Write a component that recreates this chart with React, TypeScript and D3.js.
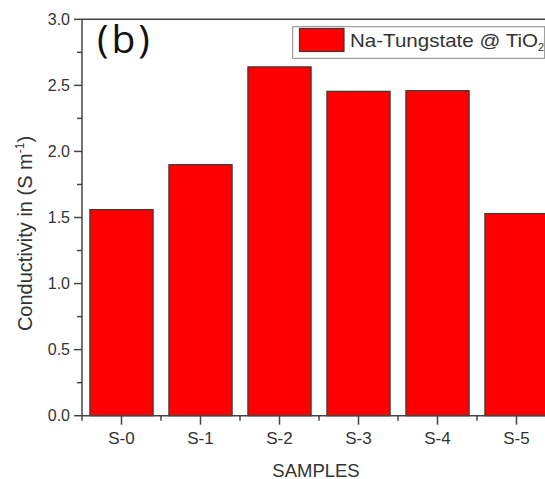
import React, { useEffect, useRef } from "react";
import * as d3 from "d3";

// data
const samples = ["S-0", "S-1", "S-2", "S-3", "S-4", "S-5"];
const conductivity = [1.56, 1.9, 2.64, 2.455, 2.46, 1.53];
const yTicks = [0, 0.5, 1.0, 1.5, 2.0, 2.5, 3.0];
const yMinorTicks = [0.25, 0.75, 1.25, 1.75, 2.25, 2.75];

const W = 545;
const H = 479;

const App = () => {
  const ref = useRef<SVGSVGElement | null>(null);

  useEffect(() => {
    if (!ref.current) return;
    const svg = d3.select(ref.current);
    svg.selectAll("*").remove();

    const axisColor = "#444";
    const textColor = "#333";
    const font = "'Liberation Sans', Arial, sans-serif";

    const left = 82;
    const top = 19.3;
    const bottom = 415.7;

    // x: band scale, right side runs past the crop like the reference
    const x = d3.scaleBand<string>()
      .domain(samples)
      .range([left, left + 79 * 6])
      .paddingInner(0.2)
      .paddingOuter(0.1);

    const y = d3.scaleLinear().domain([0, 3]).range([bottom, top]);

    // --- bars ---
    svg.append("g")
      .selectAll("rect")
      .data(samples)
      .enter()
      .append("rect")
      .attr("x", d => x(d)!)
      .attr("y", (d, i) => y(conductivity[i]))
      .attr("width", x.bandwidth())
      .attr("height", (d, i) => bottom - y(conductivity[i]))
      .attr("fill", "#ff0000")
      .attr("stroke", "#3a3a3a")
      .attr("stroke-width", 1.2);

    // --- frame lines ---
    svg.append("line")
      .attr("x1", left).attr("x2", W)
      .attr("y1", top).attr("y2", top)
      .attr("stroke", axisColor).attr("stroke-width", 1.5);
    svg.append("line")
      .attr("x1", left).attr("x2", W)
      .attr("y1", bottom).attr("y2", bottom)
      .attr("stroke", axisColor).attr("stroke-width", 1.5);
    svg.append("line")
      .attr("x1", left).attr("x2", left)
      .attr("y1", top).attr("y2", bottom + 5)
      .attr("stroke", axisColor).attr("stroke-width", 1.5);

    // --- y ticks ---
    const yg = svg.append("g");
    yg.selectAll(".major")
      .data(yTicks)
      .enter()
      .append("line")
      .attr("x1", left - 8).attr("x2", left)
      .attr("y1", d => y(d)).attr("y2", d => y(d))
      .attr("stroke", axisColor).attr("stroke-width", 1.5);
    yg.selectAll(".minor")
      .data(yMinorTicks)
      .enter()
      .append("line")
      .attr("x1", left - 5).attr("x2", left)
      .attr("y1", d => y(d)).attr("y2", d => y(d))
      .attr("stroke", axisColor).attr("stroke-width", 1.5);
    yg.selectAll("text")
      .data(yTicks)
      .enter()
      .append("text")
      .attr("x", 70)
      .attr("y", d => y(d))
      .attr("dy", "0.36em")
      .attr("text-anchor", "end")
      .style("font-family", font)
      .style("font-size", "16px")
      .style("fill", textColor)
      .text(d => d.toFixed(1));

    // --- x ticks ---
    const xg = svg.append("g");
    xg.selectAll(".major")
      .data(samples)
      .enter()
      .append("line")
      .attr("x1", d => x(d)! + x.bandwidth() / 2)
      .attr("x2", d => x(d)! + x.bandwidth() / 2)
      .attr("y1", bottom).attr("y2", bottom + 9)
      .attr("stroke", axisColor).attr("stroke-width", 1.5);
    xg.selectAll(".minor")
      .data(samples.slice(1))
      .enter()
      .append("line")
      .attr("x1", d => x(d)! - x.step() * 0.1)
      .attr("x2", d => x(d)! - x.step() * 0.1)
      .attr("y1", bottom).attr("y2", bottom + 5)
      .attr("stroke", axisColor).attr("stroke-width", 1.5);
    xg.selectAll("text")
      .data(samples)
      .enter()
      .append("text")
      .attr("x", d => x(d)! + x.bandwidth() / 2)
      .attr("y", 443.5)
      .attr("text-anchor", "middle")
      .style("font-family", font)
      .style("font-size", "17px")
      .style("fill", textColor)
      .text(d => d);

    // --- axis titles ---
    svg.append("text")
      .attr("x", 316)
      .attr("y", 476.5)
      .attr("text-anchor", "middle")
      .style("font-family", font)
      .style("font-size", "18.5px")
      .style("fill", textColor)
      .text("SAMPLES");

    const yl = svg.append("text")
      .attr("transform", `translate(32, 233.5) rotate(-90)`)
      .attr("text-anchor", "middle")
      .style("font-family", font)
      .style("font-size", "20px")
      .style("fill", textColor);
    yl.append("tspan").text("Conductivity in (S m");
    yl.append("tspan").attr("dy", -8).style("font-size", "12px").text("-1");
    yl.append("tspan").attr("dy", 8).text(")");

    // --- panel label ---
    svg.append("text")
      .attr("x", 97)
      .attr("y", 53)
      .style("font-family", "'Open Sans', 'DejaVu Sans', sans-serif")
      .style("font-size", "39px")
      .style("letter-spacing", "3px")
      .style("fill", "#111")
      .text("(b)");

    // --- legend ---
    svg.append("rect")
      .attr("x", 292.7).attr("y", 26.7)
      .attr("width", 252).attr("height", 31.6)
      .attr("fill", "#fff")
      .attr("stroke", "#888").attr("stroke-width", 1);
    svg.append("rect")
      .attr("x", 299.5).attr("y", 28.5)
      .attr("width", 44.5).attr("height", 23)
      .attr("fill", "#ff0000")
      .attr("stroke", "#3a3a3a").attr("stroke-width", 1.2);
    const lt = svg.append("text")
      .attr("x", 350)
      .attr("y", 47)
      .style("font-family", font)
      .style("font-size", "18.5px")
      .style("fill", textColor);
    lt.append("tspan")
      .attr("textLength", 188)
      .attr("lengthAdjust", "spacingAndGlyphs")
      .text("Na-Tungstate @ TiO");
    lt.append("tspan").attr("dy", 4).style("font-size", "11px").text("2");
  }, []);

  return (
    <svg
      ref={ref}
      width={W}
      height={H}
      style={{ position: "absolute", left: 0, top: 0, background: "#fff" }}
    />
  );
};

export default App;
